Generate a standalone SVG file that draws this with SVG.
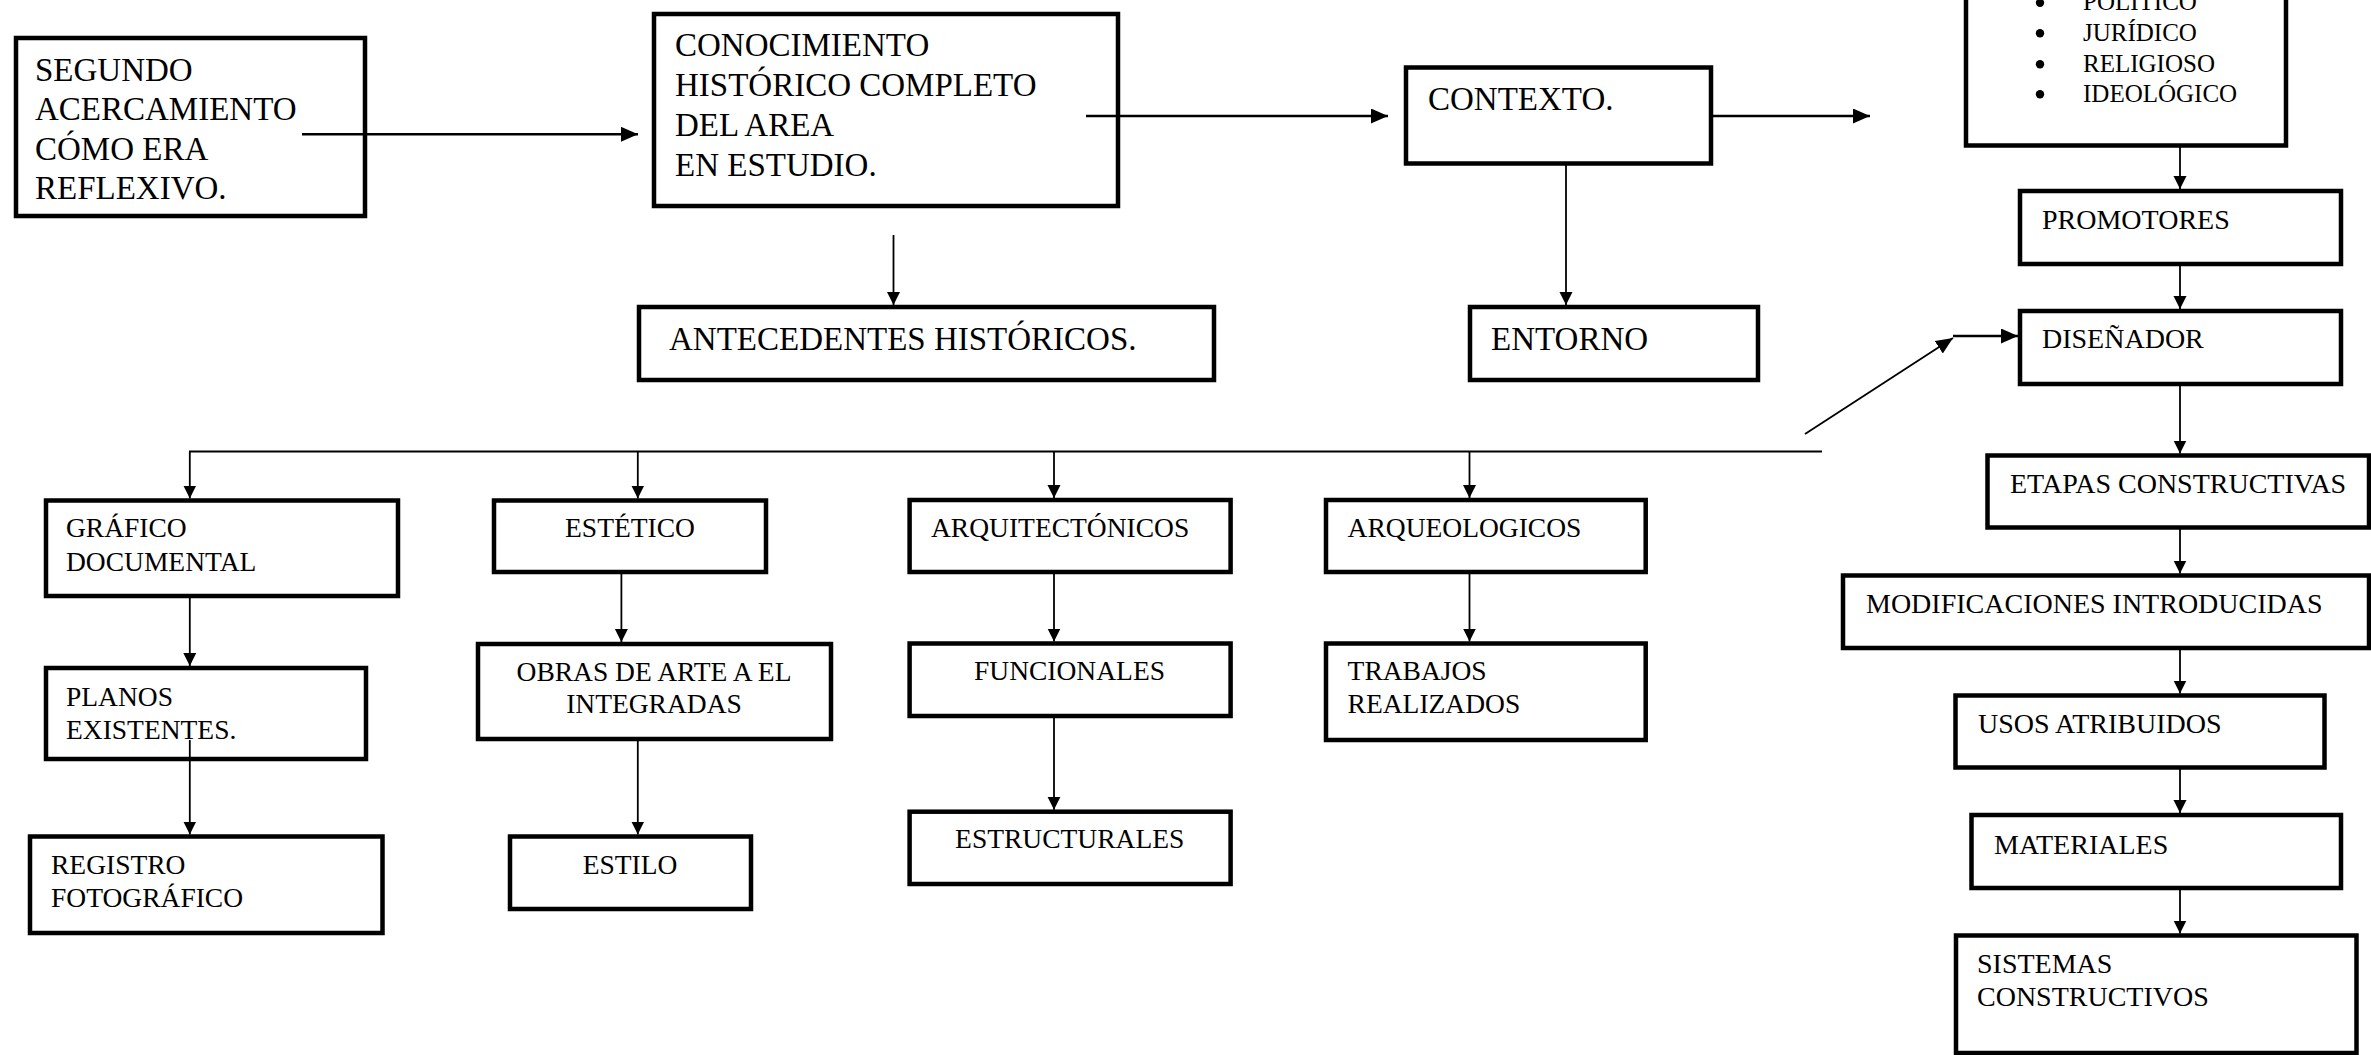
<svg xmlns="http://www.w3.org/2000/svg" width="2371" height="1055" viewBox="0 0 2371 1055">
<style>
.box{fill:#fff;stroke:#000;stroke-width:4.5}
.t{font-family:"Liberation Serif","Times New Roman",serif;fill:#000}
.big{font-size:33px}
.sm{font-size:27.5px}
.rs{font-size:28px}
.bl{font-size:25px}
.c{text-anchor:middle}
.ln{fill:none;stroke:#000;stroke-width:1.8}
.thk{fill:none;stroke:#000;stroke-width:2.6}
</style>
<defs>
<marker id="ah" markerUnits="userSpaceOnUse" markerWidth="14" markerHeight="14" refX="13" refY="6.5" orient="auto">
<path d="M0,0 L13,6.5 L0,13 z" fill="#000"/>
</marker>
<marker id="ahb" markerUnits="userSpaceOnUse" markerWidth="18" markerHeight="16" refX="17" refY="7.5" orient="auto">
<path d="M0,0 L17,7.5 L0,15 z" fill="#000"/>
</marker>
</defs>
<rect width="2371" height="1055" fill="#fff"/>

<g id="segundo">
<rect class="box" x="16" y="38" width="349" height="178"/>
<text class="t big" x="35" y="81">SEGUNDO</text>
<text class="t big" x="35" y="120.3">ACERCAMIENTO</text>
<text class="t big" x="35" y="159.6">CÓMO ERA</text>
<text class="t big" x="35" y="199">REFLEXIVO.</text>
</g>
<g id="conocimiento">
<rect class="box" x="654" y="14" width="464" height="192"/>
<text class="t big" x="675" y="55.7">CONOCIMIENTO</text>
<text class="t big" x="675" y="95.7">HISTÓRICO COMPLETO</text>
<text class="t big" x="675" y="135.7">DEL AREA</text>
<text class="t big" x="675" y="175.7">EN ESTUDIO.</text>
</g>
<g id="antecedentes">
<rect class="box" x="639" y="307" width="575" height="73"/>
<text class="t big" x="669" y="350">ANTECEDENTES HISTÓRICOS.</text>
</g>
<g id="contexto">
<rect class="box" x="1406" y="67.5" width="305" height="96"/>
<text class="t big" x="1428" y="110">CONTEXTO.</text>
</g>
<g id="entorno">
<rect class="box" x="1470" y="307" width="288" height="73"/>
<text class="t big" x="1491" y="350">ENTORNO</text>
</g>
<g id="aspectos">
<rect class="box" x="1966" y="-30" width="320" height="175.5"/>
<circle cx="2040" cy="2.8" r="4.2"/>
<circle cx="2040" cy="33.3" r="4.2"/>
<circle cx="2040" cy="64.3" r="4.2"/>
<circle cx="2040" cy="94.3" r="4.2"/>
<text class="t bl" x="2083" y="10.2">POLÍTICO</text>
<text class="t bl" x="2083" y="40.7">JURÍDICO</text>
<text class="t bl" x="2083" y="71.7">RELIGIOSO</text>
<text class="t bl" x="2083" y="101.7">IDEOLÓGICO</text>
</g>
<g id="promotores">
<rect class="box" x="2020" y="191" width="321" height="73"/>
<text class="t rs" x="2042" y="229.3">PROMOTORES</text>
</g>
<g id="disenador">
<rect class="box" x="2020" y="311" width="321" height="73"/>
<text class="t rs" x="2042" y="348">DISEÑADOR</text>
</g>
<g id="etapas">
<rect class="box" x="1987.5" y="455.5" width="381.5" height="72"/>
<text class="t rs" x="2010" y="493">ETAPAS CONSTRUCTIVAS</text>
</g>
<g id="modificaciones">
<rect class="box" x="1843" y="575.5" width="526" height="72.5"/>
<text class="t rs" x="1866" y="613">MODIFICACIONES INTRODUCIDAS</text>
</g>
<g id="usos">
<rect class="box" x="1955.5" y="695.5" width="369" height="72"/>
<text class="t rs" x="1978" y="733">USOS ATRIBUIDOS</text>
</g>
<g id="materiales">
<rect class="box" x="1971.5" y="815" width="369.5" height="73"/>
<text class="t rs" x="1994" y="853.5">MATERIALES</text>
</g>
<g id="sistemas">
<rect class="box" x="1956" y="935.5" width="400.5" height="117.5"/>
<text class="t rs" x="1977" y="973">SISTEMAS</text>
<text class="t rs" x="1977" y="1005.5">CONSTRUCTIVOS</text>
</g>
<g id="grafico">
<rect class="box" x="46" y="500.5" width="352" height="95.5"/>
<text class="t sm" x="66" y="537">GRÁFICO</text>
<text class="t sm" x="66" y="571">DOCUMENTAL</text>
</g>
<g id="planos">
<rect class="box" x="46" y="668" width="320" height="91"/>
<text class="t sm" x="66" y="705.6">PLANOS</text>
<text class="t sm" x="66" y="738.7">EXISTENTES.</text>
</g>
<g id="registro">
<rect class="box" x="30" y="836.5" width="352.5" height="96.5"/>
<text class="t sm" x="51" y="873.6">REGISTRO</text>
<text class="t sm" x="51" y="907">FOTOGRÁFICO</text>
</g>
<g id="estetico">
<rect class="box" x="494" y="500.5" width="272" height="71.5"/>
<text class="t sm c" x="630" y="537">ESTÉTICO</text>
</g>
<g id="obras">
<rect class="box" x="478" y="644" width="353" height="95"/>
<text class="t sm c" x="654" y="681">OBRAS DE ARTE A EL</text>
<text class="t sm c" x="654" y="713.3">INTEGRADAS</text>
</g>
<g id="estilo">
<rect class="box" x="510" y="836.5" width="241" height="72.5"/>
<text class="t sm c" x="630" y="873.6">ESTILO</text>
</g>
<g id="arquitectonicos">
<rect class="box" x="909.6" y="500" width="321" height="72"/>
<text class="t sm" x="931" y="536.7">ARQUITECTÓNICOS</text>
</g>
<g id="funcionales">
<rect class="box" x="909.6" y="643.5" width="321" height="72.5"/>
<text class="t sm c" x="1069.5" y="680">FUNCIONALES</text>
</g>
<g id="estructurales">
<rect class="box" x="909.6" y="811.7" width="321" height="72.3"/>
<text class="t sm c" x="1069.7" y="848.3">ESTRUCTURALES</text>
</g>
<g id="arqueologicos">
<rect class="box" x="1326" y="500" width="319.7" height="72"/>
<text class="t sm" x="1347.6" y="536.7">ARQUEOLOGICOS</text>
</g>
<g id="trabajos">
<rect class="box" x="1326" y="643.5" width="319.7" height="96.5"/>
<text class="t sm" x="1347.6" y="680">TRABAJOS</text>
<text class="t sm" x="1347.6" y="713.3">REALIZADOS</text>
</g>

<g id="connectors">
<line class="thk" x1="302" y1="134.3" x2="638" y2="134.3" marker-end="url(#ahb)"/>
<line class="thk" x1="1086" y1="116" x2="1388" y2="116" marker-end="url(#ahb)"/>
<line class="thk" x1="1711" y1="116" x2="1870" y2="116" marker-end="url(#ahb)"/>
<line class="ln" x1="893.5" y1="235" x2="893.5" y2="305" marker-end="url(#ah)"/>
<line class="ln" x1="1566" y1="164" x2="1566" y2="305" marker-end="url(#ah)"/>
<line class="ln" x1="2180" y1="146" x2="2180" y2="189" marker-end="url(#ah)"/>
<line class="ln" x1="2180" y1="264" x2="2180" y2="309" marker-end="url(#ah)"/>
<line class="ln" x1="1805" y1="434" x2="1953" y2="338" marker-end="url(#ahb)"/>
<line class="thk" x1="1953" y1="336" x2="2018" y2="336" marker-end="url(#ahb)"/>
<line class="ln" x1="2180" y1="384" x2="2180" y2="453.5" marker-end="url(#ah)"/>
<line class="ln" x1="2180" y1="528" x2="2180" y2="573.5" marker-end="url(#ah)"/>
<line class="ln" x1="2180" y1="648" x2="2180" y2="693.5" marker-end="url(#ah)"/>
<line class="ln" x1="2180" y1="768" x2="2180" y2="813" marker-end="url(#ah)"/>
<line class="ln" x1="2180" y1="888" x2="2180" y2="933.5" marker-end="url(#ah)"/>
<line class="ln" x1="189" y1="451.5" x2="1822" y2="451.5"/>
<line class="ln" x1="189.8" y1="451.5" x2="189.8" y2="498.5" marker-end="url(#ah)"/>
<line class="ln" x1="637.8" y1="451.5" x2="637.8" y2="498.5" marker-end="url(#ah)"/>
<line class="ln" x1="1054" y1="451.5" x2="1054" y2="498" marker-end="url(#ah)"/>
<line class="ln" x1="1469.5" y1="451.5" x2="1469.5" y2="498" marker-end="url(#ah)"/>
<line class="ln" x1="189.8" y1="596" x2="189.8" y2="666" marker-end="url(#ah)"/>
<line class="ln" x1="189.8" y1="740" x2="189.8" y2="834.5" marker-end="url(#ah)"/>
<line class="ln" x1="621.4" y1="572" x2="621.4" y2="642" marker-end="url(#ah)"/>
<line class="ln" x1="637.8" y1="739" x2="637.8" y2="834.5" marker-end="url(#ah)"/>
<line class="ln" x1="1054" y1="716" x2="1054" y2="809.7" marker-end="url(#ah)"/>
<line class="ln" x1="1054" y1="572" x2="1054" y2="641.5" marker-end="url(#ah)"/>
<line class="ln" x1="1469.5" y1="572" x2="1469.5" y2="641.5" marker-end="url(#ah)"/>
</g>
</svg>
